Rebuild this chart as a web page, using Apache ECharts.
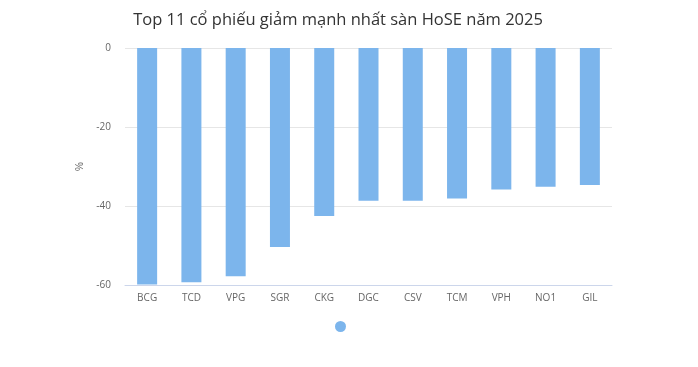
<!DOCTYPE html>
<html><head><meta charset="utf-8">
<script src="https://cdn.jsdelivr.net/npm/echarts@6/dist/echarts.min.js"></script>
<style>html,body{margin:0;padding:0;background:#fff}#c{width:698px;height:367px}</style>
</head><body><div id="c"></div>
<script>
const categories = ['BCG','TCD','VPG','SGR','CKG','DGC','CSV','TCM','VPH','NO1','GIL'];
const values = [-59.9,-59.3,-57.8,-50.4,-42.5,-38.7,-38.7,-38.1,-35.8,-35.1,-34.7];
const yTicks = [-60,-40,-20,0];
const titleText = 'Top 11 cổ phiếu giảm mạnh nhất sàn HoSE năm 2025';
const seriesName = '%';

const chart = echarts.init(document.getElementById('c'));
chart.setOption({
  animation:false,
  backgroundColor:'#fff',
  title:{text:titleText,left:333,textAlign:'center',top:7,textStyle:{fontFamily:'Open Sans',fontSize:16.5,fontWeight:'normal',color:'#333'}},
  legend:{bottom:30,left:330,icon:'circle',itemWidth:11,itemHeight:11,data:[seriesName],formatter:()=>'',itemGap:0},
  grid:{left:125,right:86,top:48,bottom:82},
  xAxis:{type:'category',data:categories,
    axisLine:{onZero:false,lineStyle:{color:'#ccd6eb'}},axisTick:{show:false},
    axisLabel:{color:'#666',fontSize:10,fontFamily:'Open Sans',margin:8}},
  yAxis:{type:'value',min:yTicks[0],max:yTicks[yTicks.length-1],interval:20,
    name:'%',nameLocation:'middle',nameGap:35,nameRotate:90,nameTextStyle:{color:'#666',fontSize:10},
    axisLabel:{color:'#666',fontSize:10,fontFamily:'Open Sans',margin:14},
    splitLine:{lineStyle:{color:'#e6e6e6'}},axisLine:{show:false},axisTick:{show:false}},
  series:[{name:seriesName,type:'bar',data:values,barWidth:20,itemStyle:{color:'#7cb5ec'}}]
});
</script></body></html>
